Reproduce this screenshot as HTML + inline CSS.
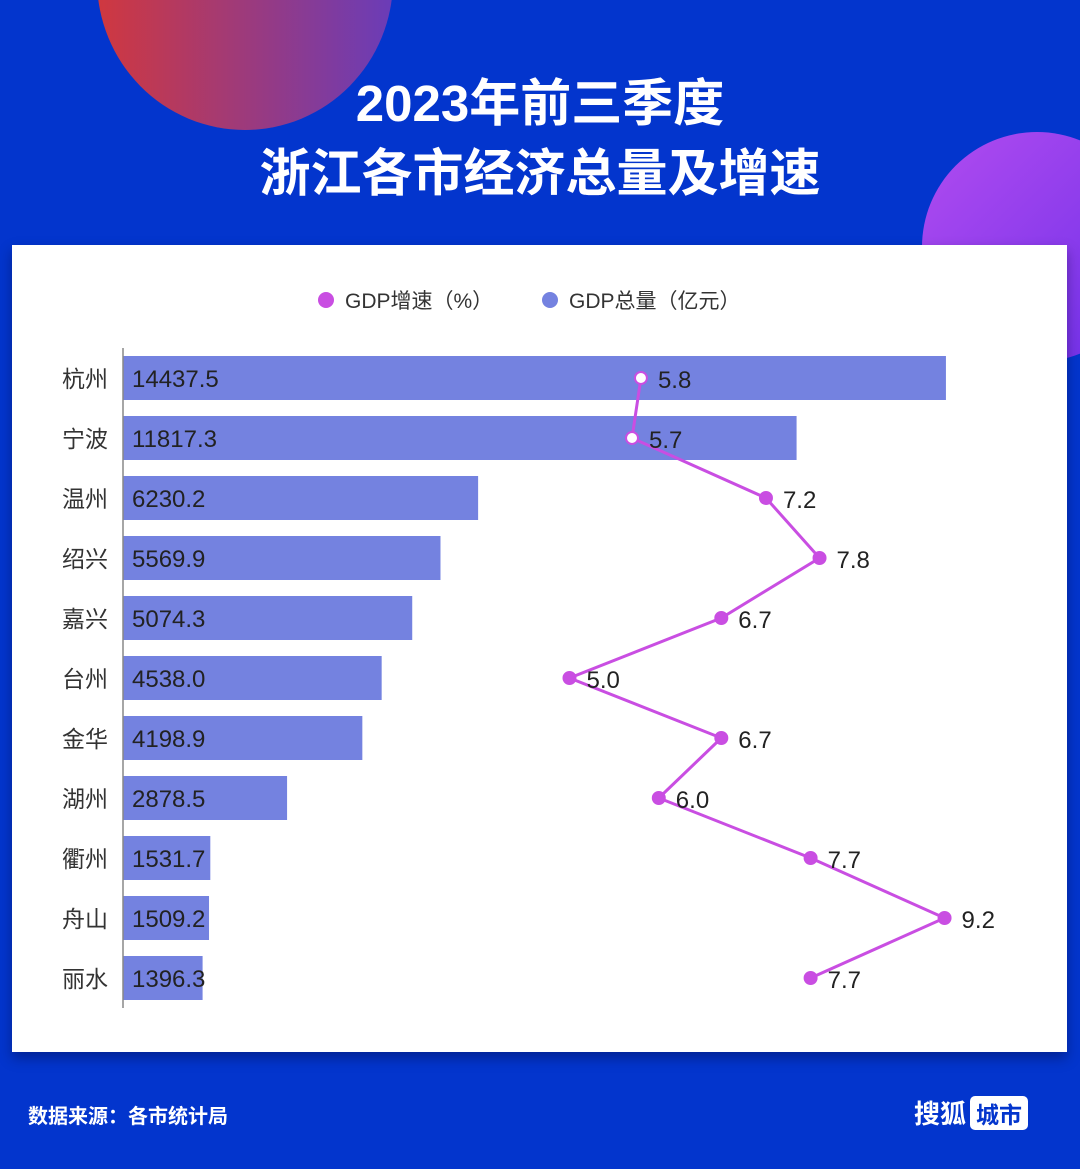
<!DOCTYPE html>
<html><head><meta charset="utf-8"><style>
body{margin:0;width:1080px;height:1169px;overflow:hidden;background:#0335cd;font-family:"Liberation Sans","Noto Sans CJK SC",sans-serif;position:relative}
.t{position:absolute;left:0;width:1080px;text-align:center;color:#fff;font-weight:bold;font-size:51px;font-family:"Liberation Sans","Noto Sans CJK SC",sans-serif}
</style></head><body>
<div style="position:absolute;left:0;top:0;width:1080px;height:1169px;overflow:hidden">
<div style="position:absolute;left:97px;top:-170px;width:296px;height:300px;border-radius:50%;background:linear-gradient(90deg,#d0383f,#6a3cb8)"></div>
<div style="position:absolute;left:922px;top:132px;width:230px;height:230px;border-radius:50%;background:linear-gradient(135deg,#b24cf0,#6a2ee8)"></div>
</div>
<div class="t" style="top:62px">2023年前三季度</div>
<div class="t" style="top:132px">浙江各市经济总量及增速</div>
<div style="position:absolute;left:12px;top:245px;width:1055px;height:807px;background:#fff;box-shadow:0 6px 12px rgba(0,0,40,.35)"></div>
<svg width="1080" height="1169" style="position:absolute;left:0;top:0" font-family="Liberation Sans, Noto Sans CJK SC, sans-serif">
<g font-size="21" fill="#333">
<circle cx="326" cy="300" r="8" fill="#c94ee2"/><text x="345" y="308">GDP增速（%）</text>
<circle cx="550" cy="300" r="8" fill="#7482e0"/><text x="569" y="308">GDP总量（亿元）</text>
</g>
<g id="bars"></g><g id="line"></g>
<line x1="123" y1="348" x2="123" y2="1008" stroke="#888" stroke-width="1.5"/>
</svg>
<div style="position:absolute;left:28px;top:1100px;color:#fff;font-size:20px;font-weight:bold">数据来源：各市统计局</div>
<div style="position:absolute;left:914px;top:1094px;color:#fff;font-size:26px;font-weight:bold">搜狐<span style="display:inline-block;background:#fff;color:#0335cd;border-radius:5px;padding:0 6px;margin-left:4px;font-size:23px">城市</span></div>
<script>
const cities=["杭州","宁波","温州","绍兴","嘉兴","台州","金华","湖州","衢州","舟山","丽水"];
const gdp=[14437.5,11817.3,6230.2,5569.9,5074.3,4538.0,4198.9,2878.5,1531.7,1509.2,1396.3];
const growth=[5.8,5.7,7.2,7.8,6.7,5.0,6.7,6.0,7.7,9.2,7.7];
const NS="http://www.w3.org/2000/svg";
const x0=123,y0=378,step=60;
const xBar=v=>x0+v*0.0570;
const xLine=v=>x0+v*89.3;
const yRow=i=>y0+i*step;
const bars=document.getElementById('bars'),line=document.getElementById('line');
function mk(tag,attrs,parent){const e=document.createElementNS(NS,tag);for(const k in attrs)e.setAttribute(k,attrs[k]);parent.appendChild(e);return e;}
cities.forEach((c,i)=>{
 const r=mk('rect',{x:x0,y:yRow(i)-22,width:xBar(gdp[i])-x0,height:44,fill:'#7482e0'},bars);
 
 
 const t=mk('text',{x:132,y:yRow(i)+9,'font-size':24,fill:'#222'},bars);t.textContent=gdp[i].toFixed(1);
 
 
 const l=mk('text',{x:108,y:yRow(i)+9,'font-size':23,fill:'#333','text-anchor':'end'},bars);l.textContent=c;
 
 
});
const pts=growth.map((g,i)=>xLine(g)+','+yRow(i)).join(' ');
const pl=mk('polyline',{points:pts,fill:'none',stroke:'#c94ee2','stroke-width':3},line);


growth.forEach((g,i)=>{
 const inBar=xLine(g)<xBar(gdp[i]);
 const c=mk('circle',{cx:xLine(g),cy:yRow(i),r:6,fill:inBar?'#fff':'#c94ee2',stroke:'#c94ee2','stroke-width':2},line);
 
 
 const t=mk('text',{x:xLine(g)+17,y:yRow(i)+10,'font-size':24,fill:'#222'},line);t.textContent=g.toFixed(1);
 
 
});
</script>
</body></html>
